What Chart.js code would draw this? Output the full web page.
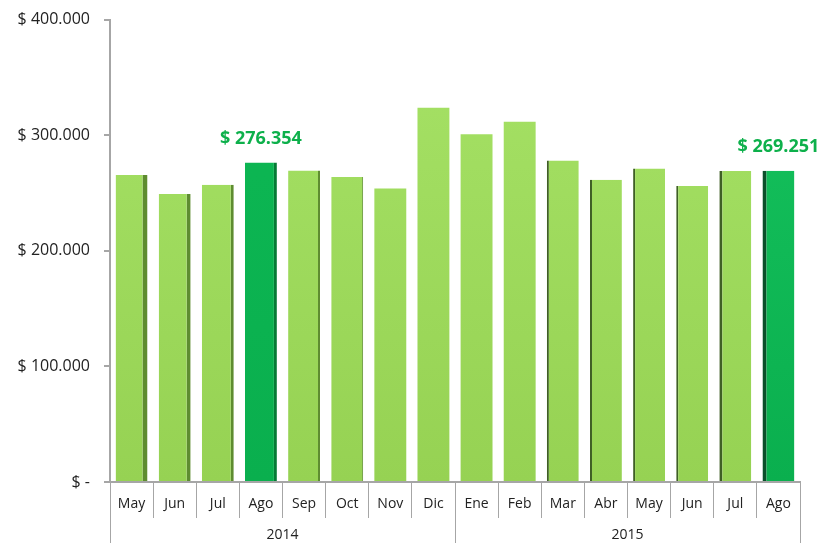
<!DOCTYPE html>
<html>
<head>
<meta charset="utf-8">
<title>Ventas mensuales</title>
<script src="https://cdn.jsdelivr.net/npm/chart.js@4.4.1/dist/chart.umd.min.js"></script>
<style>
  html, body { margin: 0; padding: 0; background: #fff; }
  .chart-box { width: 820px; height: 543px; }
</style>
</head>
<body>
<div class="chart-box"><canvas id="sales-chart"></canvas></div>
<script>
const months = ['May', 'Jun', 'Jul', 'Ago', 'Sep', 'Oct', 'Nov', 'Dic', 'Ene', 'Feb', 'Mar', 'Abr', 'May', 'Jun', 'Jul', 'Ago'];
const years = ['2014', '2015'];
const sales = [265500, 249100, 257200, 276354, 269500, 263800, 254000, 323700, 300900, 311600, 278200, 261500, 271300, 256000, 269000, 269251];
const highlighted = [3, 15];
const yTicks = [0, 100000, 200000, 300000, 400000];

// width of the shaded side of each bar (fake 3D look)
const sideShade = [5, 4, 3, 3, 2, 1, 0, 0, 0, 0, 2, 2, 2, 2, 3, 4];

const FONT = '"Open Sans", "Noto Sans", sans-serif';

const fmt = (v) => v === 0 ? '$ -' : '$ ' + String(v).replace(/\B(?=(\d{3})+(?!\d))/g, '.');

const isHi = (i) => highlighted.includes(i);

const barFill = (ctx) => {
  const i = ctx.dataIndex;
  const area = ctx.chart.chartArea;
  if (!area) return isHi(i) ? '#0cb552' : '#9cd85a';
  const g = ctx.chart.ctx.createLinearGradient(0, area.top, 0, area.bottom);
  if (isHi(i)) {
    g.addColorStop(0, i > 7 ? '#16c35e' : '#0db854');
    g.addColorStop(1, '#0aaf4e');
  } else {
    g.addColorStop(0, '#a6e266');
    g.addColorStop(1, '#96d253');
  }
  return g;
};

const sideColor = (ctx) => {
  const i = ctx.dataIndex;
  if (i < 8) return isHi(i) ? '#067a35' : '#5e8c30';
  return isHi(i) ? '#0b4f2a' : '#3f5f25';
};

const sideWidth = (ctx) => {
  const i = ctx.dataIndex;
  const w = sideShade[i];
  return i < 8 ? { top: 0, right: w, bottom: 0, left: 0 } : { top: 0, right: 0, bottom: 0, left: w };
};

const valueLabels = {
  id: 'valueLabels',
  afterDatasetsDraw(chart) {
    const meta = chart.getDatasetMeta(0);
    const ctx = chart.ctx;
    ctx.save();
    ctx.font = 'bold 18px ' + FONT;
    ctx.fillStyle = '#0db04b';
    ctx.textAlign = 'center';
    ctx.textBaseline = 'middle';
    highlighted.forEach((i) => {
      const bar = meta.data[i];
      ctx.fillText(fmt(sales[i]), bar.x, bar.y - 24);
    });
    ctx.restore();
  }
};

new Chart(document.getElementById('sales-chart'), {
  type: 'bar',
  data: {
    labels: months,
    datasets: [{
      label: 'Ventas',
      data: sales,
      backgroundColor: barFill,
      borderColor: sideColor,
      borderWidth: sideWidth,
      borderSkipped: false,
      categoryPercentage: 1,
      barPercentage: 0.74,
    }],
  },
  options: {
    responsive: true,
    maintainAspectRatio: false,
    animation: false,
    layout: { padding: { left: 0, right: 20, top: 0, bottom: 0 } },
    plugins: {
      legend: { display: false },
      tooltip: { enabled: false },
    },
    scales: {
      x: {
        offset: true,
        weight: 0,
        grid: { drawOnChartArea: false, offset: true, tickLength: 36, color: '#a6a6a6', lineWidth: 1 },
        border: { color: '#a6a6a6', width: 2 },
        ticks: { color: '#222', font: { family: FONT, size: 14 }, padding: -22, maxRotation: 0, autoSkip: false },
        afterFit: (s) => { s.height = 36; },
      },
      x2: {
        type: 'category',
        labels: years,
        position: 'bottom',
        offset: true,
        weight: 1,
        grid: { drawOnChartArea: false, offset: true, tickLength: 26, color: '#a6a6a6', lineWidth: 1 },
        border: { display: false },
        ticks: { color: '#222', font: { family: FONT, size: 14 }, padding: -17, maxRotation: 0 },
        afterFit: (s) => { s.height = 25; },
      },
      y: {
        min: 0,
        max: 400000,
        afterBuildTicks: (s) => { s.ticks = yTicks.map((v) => ({ value: v })); },
        ticks: { callback: fmt, color: '#222', font: { family: FONT, size: 16 }, padding: 14 },
        grid: { drawOnChartArea: false, tickLength: 6, color: '#a6a6a6', lineWidth: 2 },
        border: { color: '#a6a6a6', width: 2 },
        afterFit: (s) => { s.width = 110; s.paddingTop = Math.max(0, s.paddingTop - 4); },
      },
    },
  },
  plugins: [valueLabels],
});
</script>
</body>
</html>
